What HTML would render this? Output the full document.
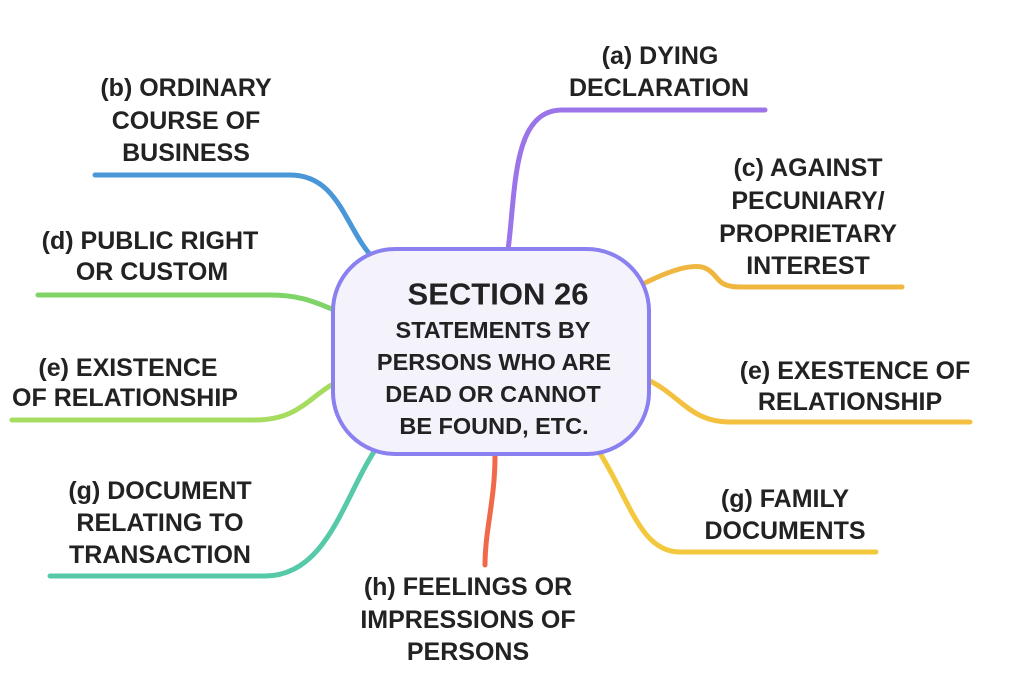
<!DOCTYPE html>
<html><head><style>
html,body{margin:0;padding:0;background:#fff;}
svg text{font-family:"Liberation Sans",sans-serif;font-weight:bold;fill:#222;}
</style></head><body>
<svg width="1024" height="683" viewBox="0 0 1024 683" xmlns="http://www.w3.org/2000/svg">
<g fill="none" stroke-width="5" stroke-linecap="round">
<path d="M508,250 C516,190 512,110 562,110 L765,110" stroke="#9a74e8"/>
<path d="M95,175 L290,175 C340,175 345,230 375,260" stroke="#4a97d8"/>
<path d="M38,295 L270,295 C305,295 320,305 337,311" stroke="#7fd468"/>
<path d="M12,420 L255,420 C300,420 310,395 337,382" stroke="#a6dc60"/>
<path d="M50,576 L265,576 C330,576 345,490 380,443" stroke="#55c9a8"/>
<path d="M495,456 C495,500 485,530 485,565" stroke="#f0694a"/>
<path d="M637,287 C660,275 690,262 705,268 C720,275 715,287 740,287 L902,287" stroke="#f0b740"/>
<path d="M648,380 C680,395 690,422 730,422 L970,422" stroke="#f3c040"/>
<path d="M598,450 C630,500 640,552 680,552 L876,552" stroke="#f3c83c"/>
</g>
<rect x="333" y="249" width="316" height="205" rx="62" ry="62" fill="#f4f3fc" stroke="#8b80f0" stroke-width="4"/>
<g text-anchor="middle" dominant-baseline="central">
<text x="498" y="294" font-size="31">SECTION 26</text>
<text x="493" y="330" font-size="23.5">STATEMENTS BY</text>
<text x="494" y="362" font-size="23.5">PERSONS WHO ARE</text>
<text x="493" y="394" font-size="23.5">DEAD OR CANNOT</text>
<text x="494" y="426" font-size="23.5">BE FOUND, ETC.</text>
</g>
<g text-anchor="middle" dominant-baseline="central" font-size="25">
<text x="660" y="56">(a) DYING</text>
<text x="659" y="88">DECLARATION</text>
<text x="186" y="88">(b) ORDINARY</text>
<text x="186" y="121">COURSE OF</text>
<text x="186" y="153">BUSINESS</text>
<text x="808" y="168">(c) AGAINST</text>
<text x="808" y="201">PECUNIARY/</text>
<text x="808" y="234">PROPRIETARY</text>
<text x="808" y="266">INTEREST</text>
<text x="150" y="241">(d) PUBLIC RIGHT</text>
<text x="152" y="272">OR CUSTOM</text>
<text x="128" y="368">(e) EXISTENCE</text>
<text x="125" y="398">OF RELATIONSHIP</text>
<text x="855" y="371">(e) EXESTENCE OF</text>
<text x="850" y="402">RELATIONSHIP</text>
<text x="160" y="491">(g) DOCUMENT</text>
<text x="160" y="523">RELATING TO</text>
<text x="160" y="555">TRANSACTION</text>
<text x="785" y="499">(g) FAMILY</text>
<text x="785" y="531">DOCUMENTS</text>
<text x="468" y="587">(h) FEELINGS OR</text>
<text x="468" y="620">IMPRESSIONS OF</text>
<text x="468" y="652">PERSONS</text>
</g>
</svg>
</body></html>
